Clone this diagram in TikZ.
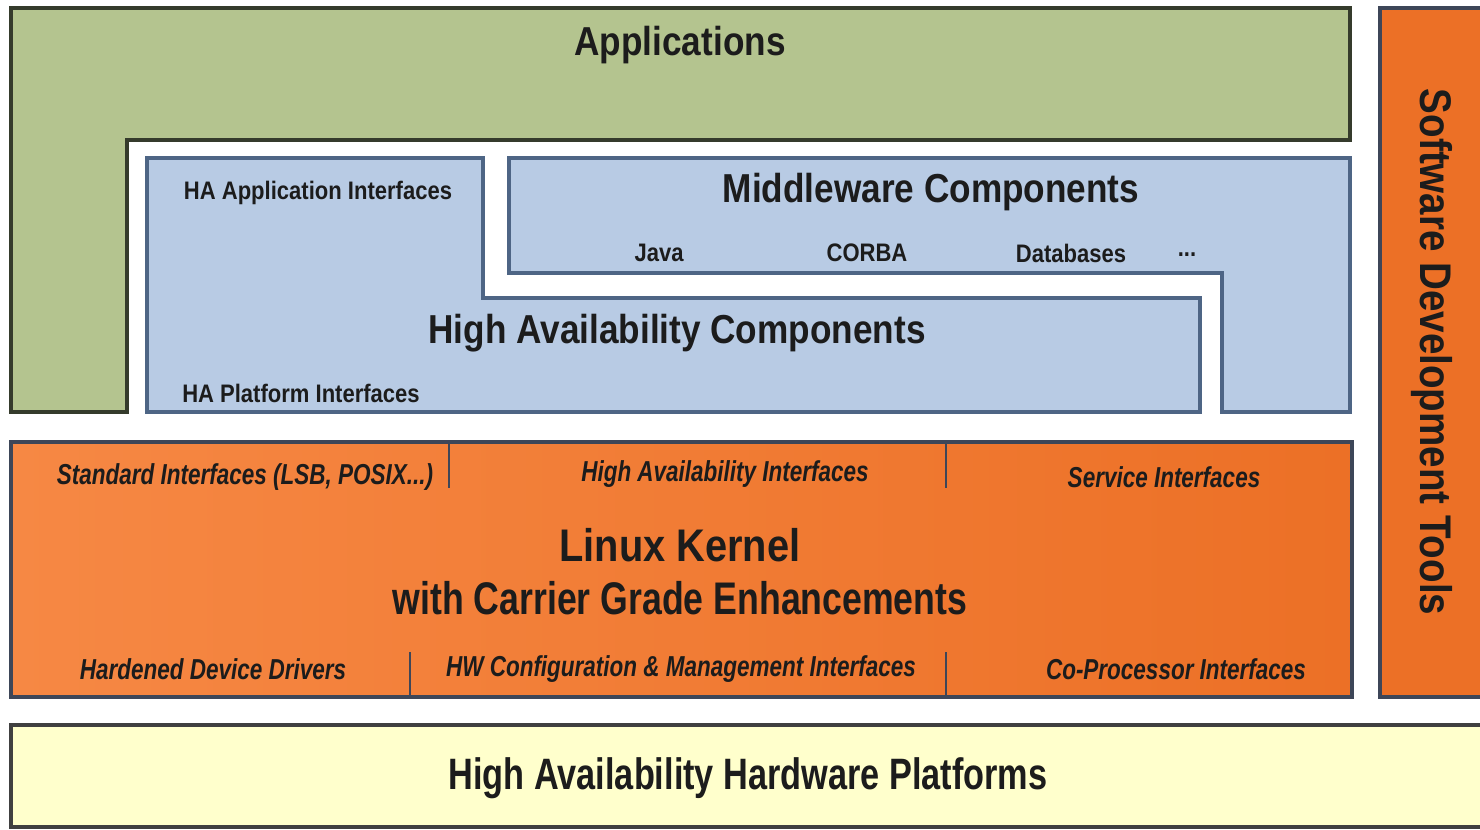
\documentclass[tikz,border=0pt]{standalone}
\usepackage{fontspec}
\setmainfont{Liberation Sans}
\newfontfamily\narrowfont[FakeStretch=0.87]{Liberation Sans}
\newfontfamily\condfont[FakeStretch=0.78]{Liberation Sans}
\definecolor{appgreen}{HTML}{B4C48F}
\definecolor{appline}{HTML}{353B2C}
\definecolor{habluef}{HTML}{B8CBE4}
\definecolor{hablued}{HTML}{4E6585}
\definecolor{orgedge}{HTML}{F68844}
\definecolor{orgdark}{HTML}{EC7026}
\definecolor{orglight}{HTML}{FFAD72}
\definecolor{orgline}{HTML}{3D4658}
\definecolor{hwyellow}{HTML}{FFFFCC}
\definecolor{txt}{HTML}{1C1C1C}
\tikzset{
  appbox/.style={draw=appline,line width=1.2pt,fill=appgreen},
  bluebox/.style={draw=hablued,line width=1pt,fill=habluef},
  kernbox/.style={draw=orgline,line width=1pt,left color=orgedge,
                  middle color=orglight,right color=orgdark},
  toolbox/.style={draw=orgline,line width=1pt,left color=orgdark,
                  middle color=orglight,right color=orgdark},
  hwbox/.style={draw=black!75,line width=1pt,fill=hwyellow},
  sep/.style={draw=orgline,line width=.6pt},
  big/.style={font=\narrowfont\bfseries\fontsize{11.5}{13}\selectfont,text=txt},
  sml/.style={font=\narrowfont\bfseries\fontsize{7.2}{8}\selectfont,text=txt},
  ital/.style={font=\condfont\bfseries\itshape\fontsize{8.2}{9}\selectfont,text=txt},
  kern/.style={font=\narrowfont\bfseries\fontsize{13}{15}\selectfont,text=txt},
}
\begin{document}
\begin{tikzpicture}[x=0.01cm,y=-0.01cm]
  \fill[white] (0,0) rectangle (1480,829);
  \useasboundingbox (0,0) rectangle (1480,829);
  % applications
  \draw[appbox] (11,8) -- (1350,8) -- (1350,140) -- (127,140) -- (127,412) -- (11,412) -- cycle;
  \node[big] (apps) at (680,45) {Applications};
  % HA and middleware
  \draw[bluebox] (147,158) -- (483,158) -- (483,298) -- (1200,298) -- (1200,412) -- (147,412) -- cycle;
  \draw[bluebox] (509,158) -- (1350,158) -- (1350,412) -- (1222,412) -- (1222,273) -- (509,273) -- cycle;
  \node[sml] (haapp) at (318,193) {HA Application Interfaces};
  \node[sml] (haplat) at (301,393) {HA Platform Interfaces};
  \node[big] (hacomp) at (677,333) {High Availability Components};
  \node[big] (mw) at (931,192) {Middleware Components};
  \node[sml] (java) at (659,253) {Java};
  \node[sml] (corba) at (867,253) {CORBA};
  \node[sml] (db) at (1071,253) {Databases};
  \node[sml] (more) at (1187,255) {...};
  % kernel
  \draw[kernbox] (11,442) rectangle (1352,697);
  \draw[sep] (449,442) -- (449,488) (946,442) -- (946,488)
             (410,652) -- (410,697) (946,652) -- (946,697);
  \node[ital] (std) at (245,477) {Standard Interfaces (LSB, POSIX...)};
  \node[ital] (hai) at (725,474) {High Availability Interfaces};
  \node[ital] (svc) at (1164,477) {Service Interfaces};
  \node[kern] (lk) at (680,545) {Linux Kernel};
  \node[kern,font=\condfont\bfseries\fontsize{13}{15}\selectfont] (cge) at (680,598) {with Carrier Grade Enhancements};
  \node[ital] (hdd) at (213,669) {Hardened Device Drivers};
  \node[ital] (hwc) at (681,669) {HW Configuration \& Management Interfaces};
  \node[ital] (cop) at (1176,669) {Co-Processor Interfaces};
  % tools
  \draw[toolbox] (1380,8) rectangle (1500,697);
  \node[kern,font=\narrowfont\bfseries\fontsize{12.6}{14}\selectfont,rotate=-90] (sdt) at (1432,352) {Software Development Tools};
  % hardware
  \draw[hwbox] (11,725) rectangle (1500,827);
  \node[big,font=\condfont\bfseries\fontsize{12.5}{14}\selectfont] (hw) at (748,778) {High Availability Hardware Platforms};
\end{tikzpicture}
\end{document}
